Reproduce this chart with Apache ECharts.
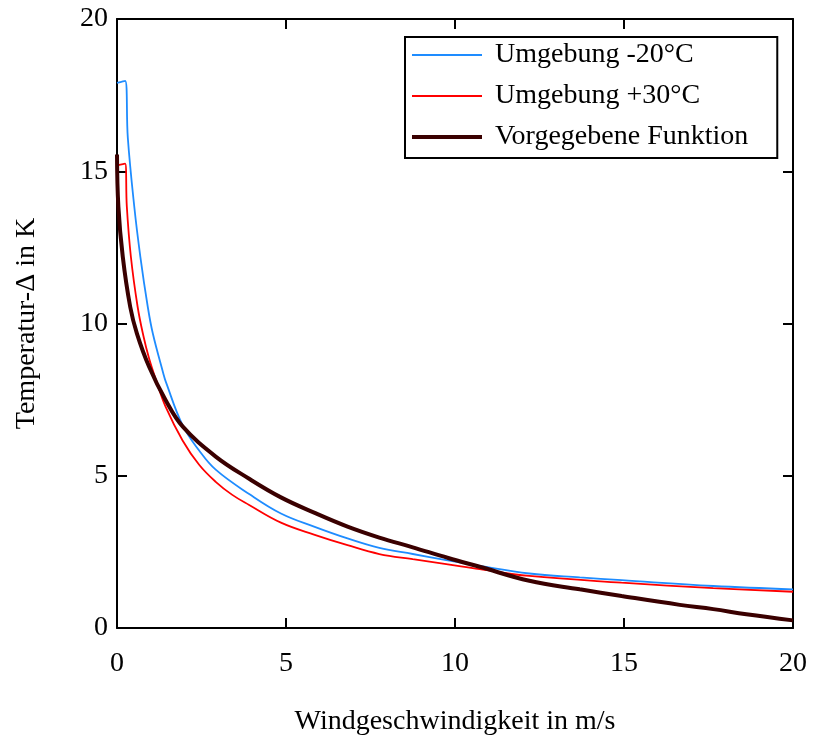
<!DOCTYPE html>
<html>
<head>
<meta charset="utf-8">
<title>Temperatur-Delta über Windgeschwindigkeit</title>
<script src="https://cdn.jsdelivr.net/npm/echarts@6/dist/echarts.min.js"></script>
<style>
  html, body { margin: 0; padding: 0; background: #fff; }
  #chart { width: 813px; height: 735px; }
</style>
</head>
<body>
<div id="chart"></div>
<script>
// Werte
const windKalt = [0, 0.24, 0.32, 0.51, 0.69, 0.91, 1.06, 1.37, 1.44, 1.94, 2.43, 2.92, 3.91, 4.85, 5.85, 6.82, 7.76, 8.75, 9.74, 10.73, 12.2, 13.69, 14.93, 17.64, 20];
const tempKalt = [17.9, 17.97, 16.1, 13.85, 12.2, 10.55, 9.67, 8.36, 8.1, 6.66, 5.83, 5.20, 4.40, 3.76, 3.32, 2.94, 2.63, 2.43, 2.23, 2.04, 1.79, 1.66, 1.57, 1.38, 1.27];

const windWarm = [0, 0.24, 0.29, 0.41, 0.61, 0.78, 0.95, 1.16, 1.44, 1.94, 2.43, 2.92, 3.4, 3.91, 4.85, 5.85, 6.82, 7.76, 8.75, 9.74, 10.73, 12.2, 14.93, 17.64, 20];
const tempWarm = [15.19, 15.25, 13.85, 12.2, 10.55, 9.6, 8.85, 8.13, 7.26, 6.16, 5.36, 4.80, 4.38, 4.04, 3.46, 3.06, 2.72, 2.43, 2.26, 2.10, 1.93, 1.71, 1.49, 1.31, 1.19];

const windFunk = [0, 0.04, 0.17, 0.39, 0.59, 0.95, 1.44, 1.94, 2.92, 3.91, 4.85, 5.85, 6.82, 7.76, 8.75, 9.8, 10.73, 12.2, 13.69, 14.93, 16.65, 17.64, 18.62, 20];
const tempFunk = [15.55, 13.85, 12.2, 10.55, 9.67, 8.58, 7.48, 6.62, 5.63, 4.90, 4.29, 3.78, 3.33, 2.97, 2.65, 2.30, 2.01, 1.55, 1.27, 1.05, 0.76, 0.62, 0.45, 0.25];

const seriesNames = ['Umgebung -20°C', 'Umgebung +30°C', 'Vorgegebene Funktion'];
const lineColors = ['#1E8CFF', '#FF0000', '#3A0000'];
const lineWidths = [1.8, 1.8, 4];
const tickValues = [0, 5, 10, 15, 20];

const FONT = '"Liberation Serif", "DejaVu Serif", serif';
const pairs = (xs, ys) => xs.map((x, i) => [x, ys[i]]);

const achse = (extra) => Object.assign({
    type: 'value',
    min: tickValues[0],
    max: tickValues[tickValues.length - 1],
    interval: 5,
    axisLine: { show: true, onZero: false, lineStyle: { color: '#000', width: 2 } },
    axisTick: { show: true, inside: true, length: 10, lineStyle: { color: '#000', width: 2 } },
    splitLine: { show: false },
    axisLabel: { show: false }
}, extra);

const labelStil = { show: true, color: '#000', fontFamily: FONT, fontSize: 28 };

const linie = (i, xs, ys) => ({
    name: seriesNames[i],
    type: 'line',
    data: pairs(xs, ys),
    symbol: 'none',
    smooth: 0.4,
    lineStyle: { color: lineColors[i], width: lineWidths[i] },
    itemStyle: { color: lineColors[i] },
    z: 2 + i
});

const chart = echarts.init(document.getElementById('chart'));
chart.setOption({
    animation: false,
    backgroundColor: '#fff',
    textStyle: { fontFamily: FONT },
    grid: { left: 117, right: 20, top: 19, bottom: 107, outerBoundsMode: 'none', containLabel: false },
    legend: {
        data: seriesNames.map((name, i) => ({ name, lineStyle: { width: lineWidths[i] } })),
        orient: 'vertical',
        left: 405,
        top: 37,
        padding: [3, 29, 6, 5],
        itemWidth: 70,
        itemHeight: 14,
        itemGap: 11,
        borderColor: '#000',
        borderWidth: 2,
        backgroundColor: '#fff',
        itemStyle: { opacity: 0 },
        textStyle: { color: '#000', fontFamily: FONT, fontSize: 28, lineHeight: 30, padding: [0, 0, 0, 8] }
    },
    xAxis: [
        achse({
            position: 'bottom',
            axisLabel: Object.assign({ margin: 22 }, labelStil),
            name: 'Windgeschwindigkeit in m/s',
            nameLocation: 'middle',
            nameGap: 80,
            nameTextStyle: { color: '#000', fontFamily: FONT, fontSize: 28 }
        }),
        achse({ position: 'top' })
    ],
    yAxis: [
        achse({
            position: 'left',
            axisLabel: Object.assign({ margin: 9 }, labelStil),
            name: 'Temperatur-Δ in K',
            nameLocation: 'middle',
            nameGap: 76,
            nameTextStyle: { color: '#000', fontFamily: FONT, fontSize: 28 }
        }),
        achse({ position: 'right' })
    ],
    series: [
        linie(0, windKalt, tempKalt),
        linie(1, windWarm, tempWarm),
        linie(2, windFunk, tempFunk)
    ]
});

window.addEventListener('resize', () => chart.resize());
</script>
</body>
</html>
